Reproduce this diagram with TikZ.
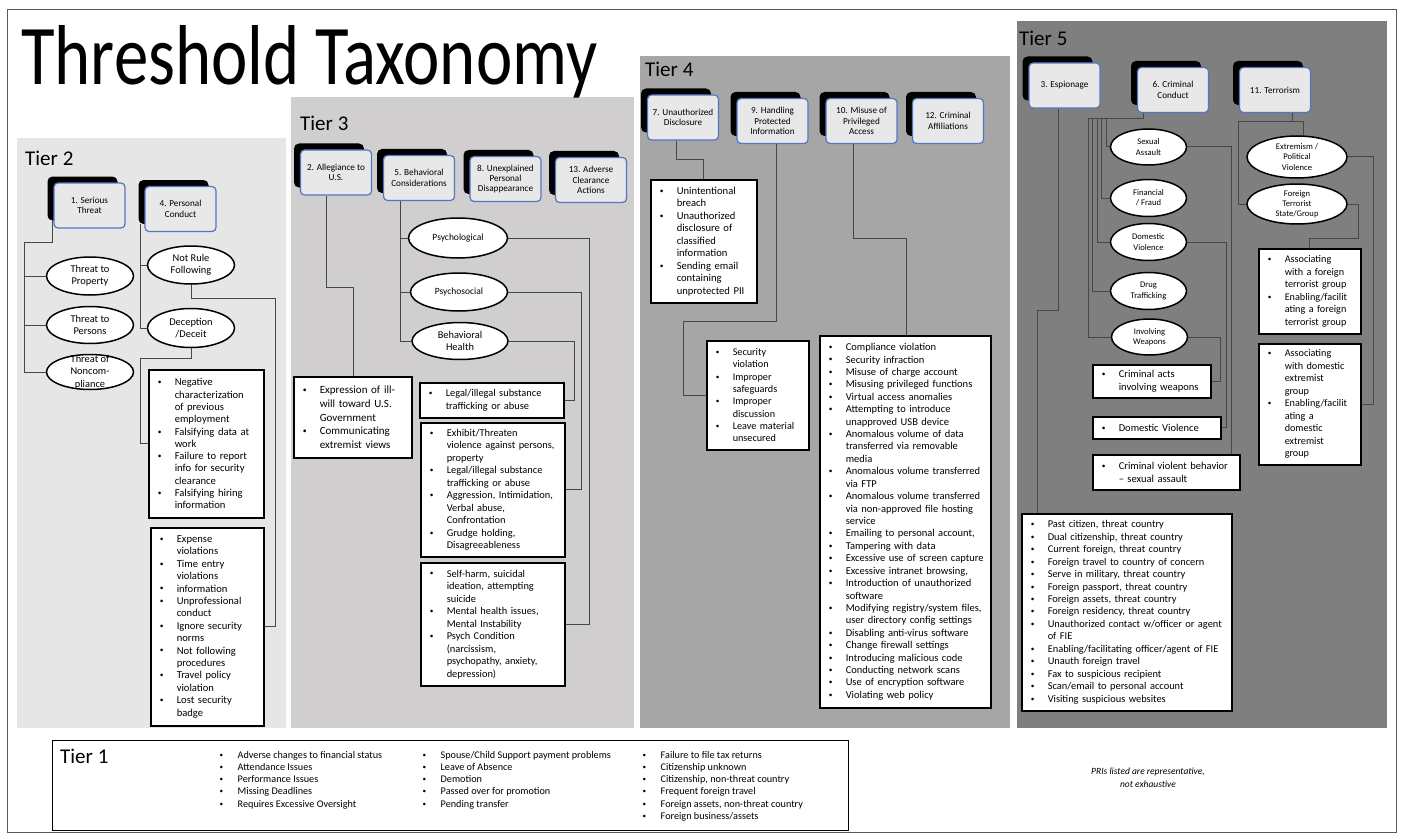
\documentclass[tikz,border=0pt]{standalone}
\usepackage{fontspec}
\usepackage{graphicx}
\setmainfont{Carlito}
\usetikzlibrary{calc,shapes.geometric}
\pgfdeclarelayer{panels}
\pgfdeclarelayer{wires}
\pgfsetlayers{panels,wires,main}
\definecolor{tiertwo}{RGB}{231,230,230}
\definecolor{tierthree}{RGB}{208,206,206}
\definecolor{tierfour}{RGB}{166,166,166}
\definecolor{tierfive}{RGB}{127,127,127}
\definecolor{hdrblue}{RGB}{84,118,192}
\definecolor{hdrfill}{RGB}{232,232,232}
\newlength\bw
\setlength\bw{17pt}
\newcommand\fsz[2]{\fontsize{#1}{#2}\selectfont}
\newcommand\bul[1]{\mbox{\makebox[\bw][l]{\raisebox{0.1em}{\scalebox{0.7}{\textbullet}}}#1}}
\newcommand\cont[1]{\mbox{\hspace*{\bw}#1}}
\newcommand\hdrbox[4]{%
  \node[hback] (#1k) at (#2-7,#3-7) {};
  \node[hfront] (#1) at (#2,#3) {#4};}
\tikzset{
  con/.style={draw=black!72, line width=1pt},
  hback/.style={fill=black, rounded corners=5pt, minimum width=70pt, minimum height=44pt, inner sep=0pt},
  hfront/.style={fill=hdrfill, draw=hdrblue, line width=1.2pt, rounded corners=4pt, minimum width=71pt, minimum height=45pt, inner sep=1pt, align=center, font=\fsz{9.2}{10.4}},
  ell/.style={ellipse, draw=black, line width=1.5pt, fill=white, inner sep=0pt},
  etwo/.style={align=center, inner sep=0pt, font=\fsz{10.4}{12.4}},
  ethree/.style={align=center, inner sep=0pt, font=\fsz{9.5}{12.4}},
  efive/.style={align=center, inner sep=0pt, font=\fsz{8.6}{10.2}},
  lbox/.style={draw=black, line width=1.5pt, fill=white, inner xsep=9pt, inner ysep=2pt, align=left, anchor=north west},
  tlab/.style={anchor=base west, inner sep=0pt, font=\fsz{21}{24}},
  plain/.style={anchor=north west, inner sep=0pt, align=left},
}
\begin{document}
\begin{tikzpicture}[x=1pt,y=-1pt]
\useasboundingbox (0,0) rectangle (1403,840);
\begin{pgfonlayer}{panels}
  \fill[white] (0,0) rectangle (1403,840);
  \fill[tiertwo] (17,138) rectangle (286,728);
  \fill[tierthree] (291,97) rectangle (634,728);
  \fill[tierfour] (640,56) rectangle (1010,728);
  \fill[tierfive] (1017,21) rectangle (1387,728);
  \draw[black!65, line width=1pt] (7,10) rectangle (1396,832);
\end{pgfonlayer}

% title and tier captions
\node[anchor=base west, inner sep=0pt, font=\fsz{85}{90}] (title) at (21,85) {\scalebox{0.81}[1]{Threshold Taxonomy}};
\node[tlab] (captwo) at (25,165) {Tier 2};
\node[tlab] (capthree) at (300,131) {Tier 3};
\node[tlab] (capfour) at (645,77) {Tier 4};
\node[tlab] (capfive) at (1019,46) {Tier 5};

% category headers
\hdrbox{st}{89.5}{205.5}{1. Serious\\Threat}
\hdrbox{pc}{180.5}{209}{4. Personal\\Conduct}
\hdrbox{al}{336}{172.5}{2. Allegiance to\\U.S.}
\hdrbox{bc}{419}{178}{5. Behavioral\\Considerations}
\hdrbox{up}{505.5}{179}{8. Unexplained\\Personal\\Disappearance}
\hdrbox{ad}{591}{180}{13. Adverse\\Clearance\\Actions}
\hdrbox{ud}{683}{117.5}{7. Unauthorized\\Disclosure}
\hdrbox{hp}{772.5}{121}{9. Handling\\Protected\\Information}
\hdrbox{mp}{861.5}{121}{10. Misuse of\\Privileged\\Access}
\hdrbox{ca}{948}{121}{12. Criminal\\Affiliations}
\hdrbox{es}{1064.5}{85.5}{3. Espionage}
\hdrbox{cc}{1173}{90}{6. Criminal\\Conduct}
\hdrbox{te}{1275}{90}{11. Terrorism}

% Tier 2 sub-categories
\node[ell, minimum width=87pt, minimum height=38pt, label={[etwo]center:{Threat to\\Property}}] (tp) at (90,276) {};
\node[ell, minimum width=87pt, minimum height=37pt, label={[etwo]center:{Threat to\\Persons}}] (tpe) at (90,325) {};
\node[ell, minimum width=87pt, minimum height=35pt, label={[etwo]center:{Threat of\\Noncom-\\pliance}}] (tnc) at (90,372) {};
\node[ell, minimum width=87pt, minimum height=38pt, label={[etwo]center:{Not Rule\\Following}}] (nrf) at (191,265) {};
\node[ell, minimum width=87pt, minimum height=39pt, label={[etwo]center:{Deception\\/Deceit}}] (dec) at (191,328) {};

% Tier 3 sub-categories
\node[ell, minimum width=99pt, minimum height=40pt, label={[ethree]center:{Psychological}}] (psy) at (458,238) {};
\node[ell, minimum width=97pt, minimum height=38pt, label={[ethree]center:{Psychosocial}}] (pss) at (459,292) {};
\node[ell, minimum width=96pt, minimum height=37pt, label={[etwo]center:{Behavioral\\Health}}] (bh) at (460,341) {};

% Tier 5 sub-categories
\node[ell, minimum width=76pt, minimum height=36pt, label={[efive]center:{Sexual\\Assault}}] (sa) at (1148.5,147) {};
\node[ell, minimum width=76pt, minimum height=37pt, label={[efive]center:{Financial\\/ Fraud}}] (ff) at (1148.5,198) {};
\node[ell, minimum width=76pt, minimum height=37pt, label={[efive]center:{Domestic\\Violence}}] (dv) at (1148.5,242) {};
\node[ell, minimum width=76pt, minimum height=37pt, label={[efive]center:{Drug\\Trafficking}}] (dt) at (1148.5,291) {};
\node[ell, minimum width=76pt, minimum height=36pt, label={[efive]center:{Involving\\Weapons}}] (iw) at (1149.5,337) {};
\node[ell, minimum width=100pt, minimum height=42pt, label={[efive]center:{Extremism /\\Political\\Violence}}] (ex) at (1297,157) {};
\node[ell, minimum width=100pt, minimum height=40pt, label={[efive]center:{Foreign\\Terrorist\\State/Group}}] (ft) at (1297,204) {};

% Tier 2 indicator lists
\node[lbox, text width=97pt, minimum height=148pt, font=\fsz{10.6}{12.3}] (b1) at (148,369) {%
\bul{Negative}\\\cont{characterization}\\\cont{of previous}\\\cont{employment}\\
\bul{Falsifying data at}\\\cont{work}\\\bul{Failure to report}\\\cont{info for security}\\\cont{clearance}\\
\bul{Falsifying hiring}\\\cont{information}};
\node[lbox, text width=95pt, minimum height=198pt, font=\fsz{10.6}{12.4}] (b2) at (150,527) {%
\bul{Expense}\\\cont{violations}\\\bul{Time entry}\\\cont{violations}\\\bul{information}\\
\bul{Unprofessional}\\\cont{conduct}\\\bul{Ignore security}\\\cont{norms}\\\bul{Not following}\\\cont{procedures}\\
\bul{Travel policy}\\\cont{violation}\\\bul{Lost security}\\\cont{badge}};

% Tier 3 indicator lists
\node[lbox, text width=100pt, minimum height=81pt, font=\fsz{11}{13.8}] (la) at (293,376) {%
\bul{Expression of ill-}\\\cont{will toward U.S.}\\\cont{Government}\\\bul{Communicating}\\\cont{extremist views}};
\node[lbox, text width=126pt, minimum height=35pt, font=\fsz{10.4}{12.5}] (l1) at (419,382) {%
\bul{Legal/illegal substance}\\\cont{trafficking or abuse}};
\node[lbox, text width=126pt, minimum height=134pt, font=\fsz{10.4}{12.5}] (l2) at (420,422) {%
\bul{Exhibit/Threaten}\\\cont{violence against persons,}\\\cont{property}\\
\bul{Legal/illegal substance}\\\cont{trafficking or abuse}\\
\bul{Aggression, Intimidation,}\\\cont{Verbal abuse,}\\\cont{Confrontation}\\
\bul{Grudge holding,}\\\cont{Disagreeableness}};
\node[lbox, text width=126pt, minimum height=123pt, font=\fsz{10.4}{12.5}] (l3) at (420,562) {%
\bul{Self-harm, suicidal}\\\cont{ideation, attempting}\\\cont{suicide}\\
\bul{Mental health issues,}\\\cont{Mental Instability}\\
\bul{Psych Condition}\\\cont{(narcissism,}\\\cont{psychopathy, anxiety,}\\\cont{depression)}};

% Tier 4 indicator lists
\node[lbox, text width=88pt, minimum height=123pt, font=\fsz{10.6}{12.5}] (d1) at (650,179) {%
\bul{Unintentional}\\\cont{breach}\\\bul{Unauthorized}\\\cont{disclosure of}\\\cont{classified}\\\cont{information}\\
\bul{Sending email}\\\cont{containing}\\\cont{unprotected PII}};
\node[lbox, text width=84pt, minimum height=109pt, font=\fsz{10.2}{12.3}] (d2) at (706,340) {%
\bul{Security}\\\cont{violation}\\\bul{Improper}\\\cont{safeguards}\\\bul{Improper}\\\cont{discussion}\\
\bul{Leave material}\\\cont{unsecured}};
\node[lbox, text width=153pt, minimum height=372pt, font=\fsz{10.5}{12.42}] (d3) at (819,335) {%
\bul{Compliance violation}\\\bul{Security infraction}\\\bul{Misuse of charge account}\\
\bul{Misusing privileged functions}\\\bul{Virtual access anomalies}\\
\bul{Attempting to introduce}\\\cont{unapproved USB device}\\
\bul{Anomalous volume of data}\\\cont{transferred via removable}\\\cont{media}\\
\bul{Anomalous volume transferred}\\\cont{via FTP}\\
\bul{Anomalous volume transferred}\\\cont{via non-approved file hosting}\\\cont{service}\\
\bul{Emailing to personal account,}\\\bul{Tampering with data}\\\bul{Excessive use of screen capture}\\
\bul{Excessive intranet browsing,}\\\bul{Introduction of unauthorized}\\\cont{software}\\
\bul{Modifying registry/system files,}\\\cont{user directory config settings}\\
\bul{Disabling anti-virus software}\\\bul{Change firewall settings}\\\bul{Introducing malicious code}\\
\bul{Conducting network scans}\\\bul{Use of encryption software}\\\bul{Violating web policy}};

% Tier 5 indicator lists
\node[lbox, text width=100pt, minimum height=33pt, font=\fsz{10.5}{12.3}] (caw) at (1092,364) {%
\bul{Criminal acts}\\\cont{involving weapons}};
\node[lbox, text width=110pt, minimum height=22pt, font=\fsz{10.5}{12.3}] (dvb) at (1092,416) {%
\bul{Domestic Violence}};
\node[lbox, text width=129pt, minimum height=35pt, font=\fsz{10.5}{12.3}] (cvb) at (1092,454) {%
\bul{Criminal violent behavior}\\\cont{– sexual assault}};
\node[lbox, text width=84pt, minimum height=85pt, font=\fsz{10.2}{12.5}] (ta) at (1258,248) {%
\bul{Associating}\\\cont{with a foreign}\\\cont{terrorist group}\\
\bul{Enabling/facilit}\\\cont{ating a foreign}\\\cont{terrorist group}};
\node[lbox, text width=84pt, minimum height=121pt, font=\fsz{10.2}{12.5}] (tb) at (1258,343) {%
\bul{Associating}\\\cont{with domestic}\\\cont{extremist}\\\cont{group}\\
\bul{Enabling/facilit}\\\cont{ating a}\\\cont{domestic}\\\cont{extremist}\\\cont{group}};
\node[lbox, text width=192pt, minimum height=197pt, font=\fsz{10.4}{12.45}] (e1) at (1021,513) {%
\bul{Past citizen, threat country}\\\bul{Dual citizenship, threat country}\\
\bul{Current foreign, threat country}\\\bul{Foreign travel to country of concern}\\
\bul{Serve in military, threat country}\\\bul{Foreign passport, threat country}\\
\bul{Foreign assets, threat country}\\\bul{Foreign residency, threat country}\\
\bul{Unauthorized contact w/officer or agent}\\\cont{of FIE}\\
\bul{Enabling/facilitating officer/agent of FIE}\\\bul{Unauth foreign travel}\\
\bul{Fax to suspicious recipient}\\\bul{Scan/email to personal account}\\
\bul{Visiting suspicious websites}};

% Tier 1 strip
\node[draw=black, line width=1.4pt, anchor=north west, minimum width=796pt, minimum height=90pt, inner sep=0pt] (tierone) at (52,740) {};
\node[tlab] (capone) at (60,763) {Tier 1};
\node[plain, font=\fsz{10.2}{12.2}\setlength\bw{18pt}] (ca1) at (219.5,751) {%
\bul{Adverse changes to financial status}\\\bul{Attendance Issues}\\\bul{Performance Issues}\\
\bul{Missing Deadlines}\\\bul{Requires Excessive Oversight}};
\node[plain, font=\fsz{10.2}{12.2}\setlength\bw{18pt}] (ca2) at (422.5,751) {%
\bul{Spouse/Child Support payment problems}\\\bul{Leave of Absence}\\\bul{Demotion}\\
\bul{Passed over for promotion}\\\bul{Pending transfer}};
\node[plain, font=\fsz{10.2}{12.2}\setlength\bw{18pt}] (ca3) at (642.5,751) {%
\bul{Failure to file tax returns}\\\bul{Citizenship unknown}\\\bul{Citizenship, non-threat country}\\
\bul{Frequent foreign travel}\\\bul{Foreign assets, non-threat country}\\\bul{Foreign business/assets}};
\node[align=center, inner sep=0pt, font=\itshape\fsz{9.5}{12.6}] (note) at (1148,778) {PRIs listed are representative,\\not exhaustive};

% connectors
\begin{pgfonlayer}{wires}
  % Tier 2
  \draw[con] (stk.south -| 52,0) |- (24,242) |- (tnc.west);
  \draw[con] (tp.west) -- (tp.west -| 24,0);
  \draw[con] (tpe.west) -- (tpe.west -| 24,0);
  \draw[con] (pck.south -| 140,0) |- (dec.west);
  \draw[con] (nrf.west) -- (nrf.west -| 140,0);
  \draw[con] (nrf.south) |- (275,298) |- (b2.east);
  \draw[con] (dec.south) |- (140,358) |- (b1.west);
  % Tier 3
  \draw[con] (al.south -| 326,0) |- (353,287) -- (la.north -| 353,0);
  \draw[con] (bc.south -| 400,0) |- (bh.west);
  \draw[con] (psy.west) -- (psy.west -| 400,0);
  \draw[con] (pss.west) -- (pss.west -| 400,0);
  \draw[con] (psy.east) -| ($(l3.east)+(24,0)$) -- (l3.east);
  \draw[con] (pss.east) -| ($(l2.east)+(16,0)$) -- (l2.east);
  \draw[con] (bh.east) -| ($(l1.east)+(10,0)$) -- (l1.east);
  % Tier 4
  \draw[con] (ud.south -| 676,0) |- (703,160) -- (d1.north -| 703,0);
  \draw[con] (hp.south -| 776,0) |- (683,321) |- (d2.west);
  \draw[con] (mp.south -| 853,0) |- (906,238) -- (d3.north -| 906,0);
  % Tier 5
  \draw[con] (es.south -| 1058,0) |- (1037,310) -- (e1.north -| 1037,0);
  \draw[con] (cc.south -| 1143,0) |- (1088,119) |- (iw.west);
  \draw[con] (1106,119) |- (sa.west);
  \draw[con] (1101,119) |- (ff.west);
  \draw[con] (1097,119) |- (dv.west);
  \draw[con] (1092,119) |- (dt.west);
  \draw[con] (sa.east) -| (cvb.north -| 1231,0);
  \draw[con] (dv.east) -| ($(dvb.east)+(5,0)$) -- (dvb.east);
  \draw[con] (iw.east) -| ($(caw.east)+(9,0)$) -- (caw.east);
  \draw[con] (te.south -| 1292,0) -- (1292,122);
  \draw[con] (1238,122) -- (1303,122) -- (ex.north -| 1303,0);
  \draw[con] (1238,122) |- (ft.west);
  \draw[con] (ex.east) -| ($(tb.east)+(12,0)$) -- (tb.east);
  \draw[con] (ft.east) -| (1358,238) -| (ta.north -| 1309,0);
\end{pgfonlayer}
\end{tikzpicture}
\end{document}
